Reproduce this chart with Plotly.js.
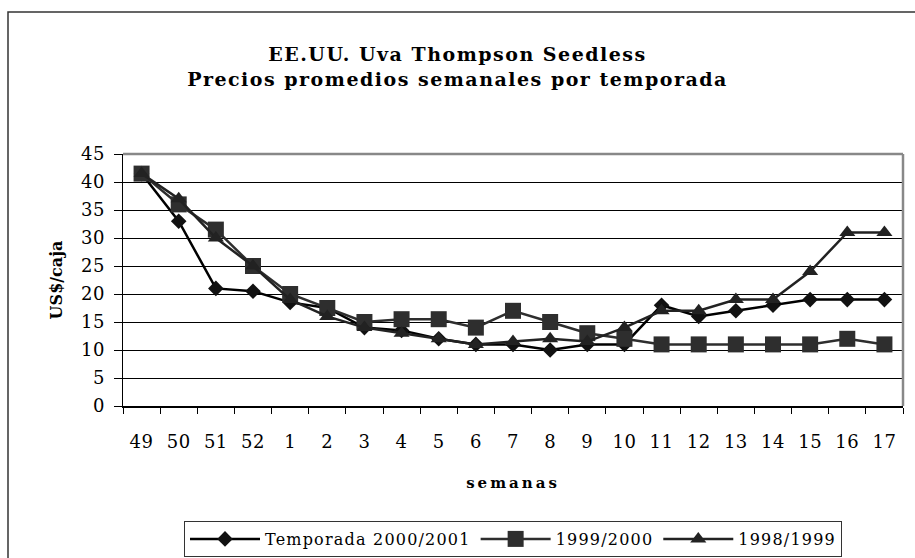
<!DOCTYPE html>
<html>
<head>
<meta charset="utf-8">
<script src="https://cdn.plot.ly/plotly-3.0.1.min.js"></script>
<style>
  html, body { margin: 0; padding: 0; background: #fff; }
  #chart { width: 915px; height: 558px; }
  .gtitle { letter-spacing: 1.5px; }
  .xtick text, .ytick text { letter-spacing: 0.5px; }
  .xtitle { letter-spacing: 3px; }
  .ytitle { letter-spacing: 0px; }
  .legendtext { letter-spacing: 1.2px; }
</style>
</head>
<body>
<div id="chart"></div>
<script>
const weeks = ['49','50','51','52','1','2','3','4','5','6','7','8','9','10','11','12','13','14','15','16','17'];
const season2000_2001 = [41.5,33,21,20.5,18.5,17.5,14,13.5,12,11,11,10,11,11,18,16,17,18,19,19,19];
const season1999_2000 = [41.5,36,31.5,25,20,17.5,15,15.5,15.5,14,17,15,13,12,11,11,11,11,11,12,11];
const season1998_1999 = [41.5,37,30,25,19,16,14,13,12,11,11.5,12,11.5,14,17,17,19,19,24,31,31];
const seriesNames = ['Temporada 2000/2001','1999/2000','1998/1999'];
const yTicks = [0,5,10,15,20,25,30,35,40,45];

const serif = 'DejaVu Serif';

const traces = [
  {x: weeks, y: season2000_2001, name: seriesNames[0], type: 'scatter', mode: 'lines+markers',
   line: {color: '#000000', width: 2.5}, marker: {symbol: 'diamond', size: 12, color: '#111111'}},
  {x: weeks, y: season1999_2000, name: seriesNames[1], type: 'scatter', mode: 'lines+markers',
   line: {color: '#2e2e2e', width: 2.5}, marker: {symbol: 'square', size: 16, color: '#2e2e2e'}},
  {x: weeks, y: season1998_1999, name: seriesNames[2], type: 'scatter', mode: 'lines+markers',
   line: {color: '#222222', width: 2.5}, marker: {symbol: 'triangle-up', size: 14, color: '#222222'}}
];

const layout = {
  width: 915, height: 558,
  margin: {l: 123, r: 12, t: 154, b: 152, autoexpand: false},
  paper_bgcolor: '#ffffff', plot_bgcolor: '#ffffff',
  font: {family: serif, color: '#000000', size: 16},
  showlegend: true,
  title: {
    text: '<b>EE.UU. Uva Thompson Seedless</b><br><b>Precios promedios semanales por temporada</b>',
    font: {family: serif, size: 19, color: '#000000'},
    x: 0.5, xref: 'container', xanchor: 'center',
    y: 0.89, yref: 'container', yanchor: 'top'
  },
  xaxis: {
    type: 'category',
    categoryorder: 'array', categoryarray: weeks,
    range: [-0.5, weeks.length - 0.5],
    tickson: 'boundaries',
    ticks: 'outside', ticklen: 6, tickcolor: '#000', tickwidth: 1,
    ticklabelstandoff: 19,
    showline: true, linecolor: '#000', linewidth: 1.5,
    showgrid: false, zeroline: false,
    tickfont: {family: serif, size: 18, color: '#000'},
    title: {text: '<b>semanas</b>', font: {family: serif, size: 15, color: '#000'}, standoff: 26},
    fixedrange: true
  },
  yaxis: {
    range: [0, 45],
    tickmode: 'array', tickvals: yTicks, ticktext: yTicks.map(String),
    ticks: 'outside', ticklen: 8, tickcolor: '#000', tickwidth: 1,
    ticklabelstandoff: 5,
    showline: true, linecolor: '#000', linewidth: 1.5,
    showgrid: true, gridcolor: '#000', gridwidth: 1,
    zeroline: false,
    tickfont: {family: serif, size: 18, color: '#000'},
    title: {text: '<b>US$/caja</b>', font: {family: serif, size: 16, color: '#000'}, standoff: 14},
    fixedrange: true
  },
  legend: {
    orientation: 'h',
    x: (513 / 915), xanchor: 'center', xref: 'container',
    y: (558 - 521) / 558, yanchor: 'top', yref: 'container',
    bgcolor: '#ffffff', bordercolor: '#333333', borderwidth: 1,
    itemwidth: 70,
    font: {family: serif, size: 16, color: '#000'},
    traceorder: 'normal'
  },
  shapes: [
    {type: 'line', xref: 'paper', yref: 'paper', x0: 0, x1: 1, y0: 1, y1: 1,
     line: {color: '#888888', width: 2.5}, layer: 'above'},
    {type: 'line', xref: 'paper', yref: 'paper', x0: 1, x1: 1, y0: 0, y1: 1,
     line: {color: '#888888', width: 2.5}, layer: 'above'},
    {type: 'rect', xref: 'paper', yref: 'paper',
     x0: (8 - 123) / 780, x1: (930 - 123) / 780,
     y0: (406 - 570) / 252, y1: (406 - 12) / 252,
     line: {color: '#333333', width: 1.5}, fillcolor: 'rgba(0,0,0,0)', layer: 'below'}
  ]
};

Plotly.newPlot('chart', traces, layout, {displayModeBar: false, staticPlot: true});
</script>
</body>
</html>
